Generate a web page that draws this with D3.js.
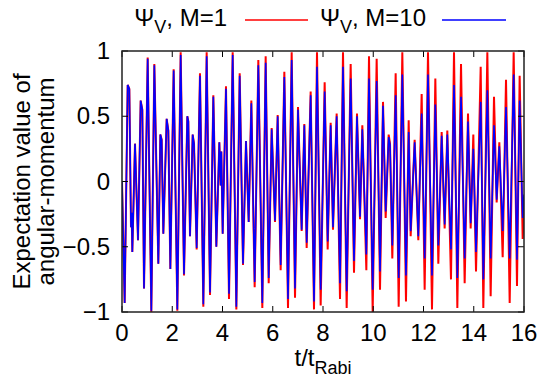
<!DOCTYPE html>
<html>
<head>
<meta charset="utf-8">
<script src="https://cdn.jsdelivr.net/npm/d3@7"></script>
<style>
  body { margin: 0; background: #fff; }
  text { font-family: "Liberation Sans", Arial, sans-serif; fill: #000; }
</style>
</head>
<body>
<div id="chart"></div>
<script>
// turning points (t in units of t_Rabi)
const times = [0, 0.106, 0.226, 0.292, 0.358, 0.385, 0.411, 0.517, 0.584, 0.637, 0.743, 0.809, 0.876,
  1.022, 1.167, 1.287, 1.446, 1.526, 1.579, 1.645, 1.778, 1.844, 1.924, 2.056, 2.202, 2.335, 2.468, 2.6,
  2.64, 2.706, 2.813, 2.866, 2.972, 3.104, 3.237, 3.37, 3.503, 3.635, 3.755, 3.874, 3.927, 3.954, 4.007,
  4.139, 4.259, 4.405, 4.551, 4.684, 4.816, 4.935, 5.042, 5.148, 5.28, 5.426, 5.585, 5.718, 5.838, 5.957,
  6.09, 6.196, 6.315, 6.461, 6.607, 6.753, 6.886, 7.005, 7.151, 7.257, 7.35, 7.509, 7.642, 7.761, 7.907,
  8.066, 8.186, 8.305, 8.398, 8.544, 8.677, 8.796, 8.942, 9.101, 9.234, 9.353, 9.473, 9.565, 9.725, 9.831,
  9.977, 10.136, 10.269, 10.388, 10.494, 10.614, 10.667, 10.759, 10.892, 11.012, 11.157, 11.303, 11.41,
  11.489, 11.648, 11.794, 11.927, 12.046, 12.179, 12.338, 12.471, 12.59, 12.723, 12.842, 12.948, 13.094,
  13.214, 13.347, 13.493, 13.638, 13.771, 13.877, 13.983, 14.09, 14.276, 14.381, 14.541, 14.673, 14.806,
  14.912, 15.018, 15.151, 15.284, 15.43, 15.589, 15.721, 15.827, 15.947, 16];

const valuesM1 = [0, -0.93, 0.74, 0.71, -0.35, -0.24, -0.54, 0.29, -0.12, -0.45, 0.62, 0.55, -0.82,
  0.95, -1.0, 0.9, -0.63, 0.36, 0.32, -0.4, 0.48, 0.39, -0.67, 0.86, -0.99, 0.99, -0.72, 0.5,
  0.46, -0.42, 0.36, 0.29, -0.52, 0.83, -0.96, 0.99, -0.87, 0.66, -0.5, 0.3, -0.03, 0.23, -0.4,
  0.73, -0.9, 0.99, -0.98, 0.83, -0.64, 0.31, -0.31, 0.62, -0.81, 0.93, -0.97, 0.96, -0.78, 0.41,
  -0.31, 0.51, -0.68, 0.84, -0.97, 0.99, -0.89, 0.57, -0.38, 0.44, -0.51, 0.69, -0.98, 0.99, -0.95,
  0.76, -0.52, 0.45, -0.37, 0.52, -0.9, 0.99, -0.97, 0.9, -0.7, 0.52, -0.29, 0.43, -0.68, 0.96,
  -1.0, 0.94, -0.83, 0.61, -0.28, 0.36, 0.29, -0.59, 0.83, -0.96, 0.99, -0.92, 0.47,
  -0.42, 0.32, -0.45, 0.67, -0.83, 0.99, -0.98, 0.79, -0.63, 0.38, -0.36, 0.39, -0.75,
  0.99, -0.97, 0.9, -0.78, 0.52, -0.36, 0.36, -0.69, 0.88, -0.97, 0.99, -0.88, 0.65,
  -0.16, 0.3, -0.58, 0.78, -0.93, 0.99, -0.8, 0.81, -0.44, -0.2];

const valuesM10 = [0, -0.93, 0.74, 0.71, -0.35, -0.24, -0.54, 0.29, -0.12, -0.45, 0.62, 0.55, -0.82,
  0.94, -0.99, 0.89, -0.63, 0.36, 0.32, -0.4, 0.48, 0.39, -0.67, 0.85, -0.98, 0.97, -0.71, 0.5,
  0.46, -0.42, 0.36, 0.29, -0.51, 0.81, -0.94, 0.96, -0.85, 0.65, -0.5, 0.3, -0.03, 0.23, -0.4,
  0.71, -0.86, 0.97, -0.96, 0.81, -0.63, 0.31, -0.31, 0.6, -0.77, 0.89, -0.93, 0.91, -0.74, 0.4,
  -0.3, 0.5, -0.64, 0.8, -0.9, 0.93, -0.82, 0.55, -0.37, 0.43, -0.47, 0.66, -0.92, 0.88, -0.83,
  0.69, -0.46, 0.43, -0.35, 0.5, -0.78, 0.88, -0.84, 0.79, -0.61, 0.5, -0.27, 0.4, -0.56, 0.79,
  -0.83, 0.77, -0.69, 0.58, -0.23, 0.34, 0.28, -0.49, 0.66, -0.74, 0.82, -0.72, 0.38,
  -0.38, 0.3, -0.42, 0.52, -0.59, 0.82, -0.72, 0.59, -0.49, 0.35, -0.33, 0.36, -0.52,
  0.74, -0.74, 0.65, -0.59, 0.46, -0.32, 0.25, -0.54, 0.61, -0.75, 0.7, -0.59, 0.43,
  -0.14, 0.27, -0.38, 0.57, -0.59, 0.82, -0.6, 0.62, -0.28, -0.1];

const xTicks = [0, 2, 4, 6, 8, 10, 12, 14, 16];
const yTicks = [-1, -0.5, 0, 0.5, 1];

const width = 542, height = 392;
const mLeft = 122, mRight = 524, mTop = 51, mBottom = 312;

const svg = d3.select("#chart").append("svg")
  .attr("width", width)
  .attr("height", height);

const x = d3.scaleLinear().domain([0, 16]).range([mLeft, mRight]);
const y = d3.scaleLinear().domain([-1, 1]).range([mBottom, mTop]);

svg.append("defs").append("clipPath").attr("id", "clip")
  .append("rect")
  .attr("x", mLeft).attr("y", mTop - 1)
  .attr("width", mRight - mLeft).attr("height", mBottom - mTop + 2);

const line = d3.line()
  .x(d => x(d[0]))
  .y(d => y(d[1]));

const plot = svg.append("g").attr("clip-path", "url(#clip)");

plot.append("path")
  .datum(times.map((t, i) => [t, valuesM1[i]]))
  .attr("d", line)
  .attr("fill", "none")
  .attr("stroke", "#ff0000")
  .attr("stroke-width", 2);

plot.append("path")
  .datum(times.map((t, i) => [t, valuesM10[i]]))
  .attr("d", line)
  .attr("fill", "none")
  .attr("stroke", "#0000ff")
  .attr("stroke-width", 1.6);

// ticks, gnuplot style: inward on all four sides
const tickLen = 6;
const axes = svg.append("g").attr("stroke", "#000").attr("stroke-width", 1);

xTicks.forEach(t => {
  axes.append("line").attr("x1", x(t)).attr("x2", x(t)).attr("y1", mBottom).attr("y2", mBottom - tickLen);
  axes.append("line").attr("x1", x(t)).attr("x2", x(t)).attr("y1", mTop).attr("y2", mTop + tickLen);
});
yTicks.forEach(v => {
  axes.append("line").attr("x1", mLeft).attr("x2", mLeft + tickLen).attr("y1", y(v)).attr("y2", y(v));
  axes.append("line").attr("x1", mRight).attr("x2", mRight - tickLen).attr("y1", y(v)).attr("y2", y(v));
});

svg.append("rect")
  .attr("x", mLeft).attr("y", mTop)
  .attr("width", mRight - mLeft).attr("height", mBottom - mTop)
  .attr("fill", "none")
  .attr("stroke", "#222")
  .attr("stroke-width", 1.5);

const fontSize = 24;

svg.append("g").selectAll("text")
  .data(xTicks)
  .join("text")
  .attr("x", d => x(d))
  .attr("y", mBottom + 29)
  .attr("text-anchor", "middle")
  .style("font-size", fontSize + "px")
  .text(d => d);

svg.append("g").selectAll("text")
  .data(yTicks)
  .join("text")
  .attr("x", mLeft - 12)
  .attr("y", d => y(d) + 8)
  .attr("text-anchor", "end")
  .style("font-size", fontSize + "px")
  .text(d => d < 0 ? "\u2212" + Math.abs(d) : d);

// axis titles
const xl = svg.append("text")
  .attr("x", 323).attr("y", 366)
  .attr("text-anchor", "middle")
  .style("font-size", fontSize + "px");
xl.append("tspan").text("t/t");
xl.append("tspan").attr("dy", 8).style("font-size", "18px").text("Rabi");

const yl = svg.append("text")
  .attr("transform", "translate(0," + ((mTop + mBottom) / 2) + ") rotate(-90)")
  .attr("text-anchor", "middle")
  .style("font-size", fontSize + "px");
yl.append("tspan").attr("x", 0).attr("y", 30).text("Expectation value of");
yl.append("tspan").attr("x", 0).attr("y", 54).text("angular-momentum");

// legend
const legend = [
  { label: "M=1", color: "#ff0000", textEnd: 227, x1: 245, x2: 308 },
  { label: "M=10", color: "#0000ff", textEnd: 426, x1: 442, x2: 506 }
];
legend.forEach(d => {
  const t = svg.append("text")
    .attr("x", d.textEnd).attr("y", 26)
    .attr("text-anchor", "end")
    .style("font-size", fontSize + "px");
  t.append("tspan").text("\u03A8");
  t.append("tspan").attr("dy", 7).style("font-size", "18px").text("V");
  t.append("tspan").attr("dy", -7).text(", " + d.label);
  svg.append("line")
    .attr("x1", d.x1).attr("x2", d.x2)
    .attr("y1", 20).attr("y2", 20)
    .attr("stroke", d.color)
    .attr("stroke-width", 1.5);
});
</script>
</body>
</html>
